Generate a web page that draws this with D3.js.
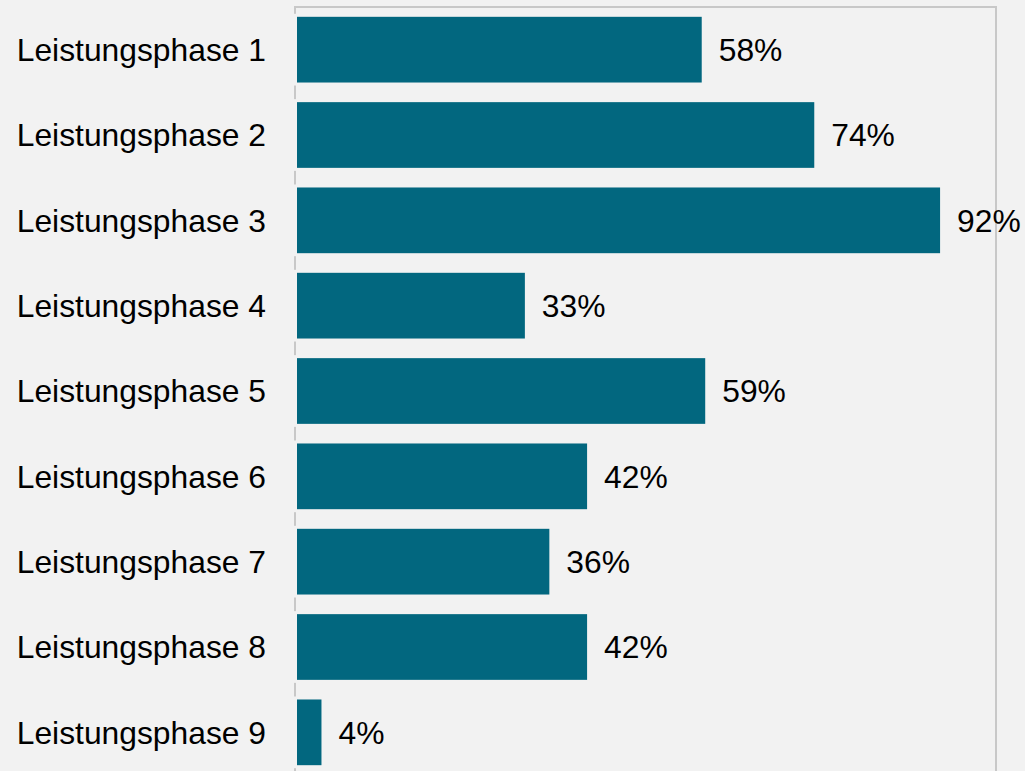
<!DOCTYPE html>
<html>
<head>
<meta charset="utf-8">
<script src="https://cdn.jsdelivr.net/npm/d3@7"></script>
<style>
  html, body { margin: 0; padding: 0; background: #f2f2f2; }
  svg { display: block; }
</style>
</head>
<body>
<div id="chart"></div>
<script>
const categories = ['Leistungsphase 1','Leistungsphase 2','Leistungsphase 3','Leistungsphase 4',
                    'Leistungsphase 5','Leistungsphase 6','Leistungsphase 7','Leistungsphase 8','Leistungsphase 9'];
const values = [57.9, 74.0, 92.0, 32.6, 58.4, 41.5, 36.1, 41.5, 3.5];
const valueLabels = ['58%','74%','92%','33%','59%','42%','36%','42%','4%'];

;(function(){
const W = 1025, H = 771;
const mLeft = 297, mRight = 996, mTop = 7, mBottom = 775;
const barColor = '#02677f', gridColor = '#c8c8c8', bg = '#f2f2f2';

const svg = d3.select('#chart').append('svg')
  .attr('width', W).attr('height', H);

svg.append('rect').attr('width', W).attr('height', H).attr('fill', bg);

const x = d3.scaleLinear().domain([0, 100]).range([mLeft, mRight]);
const y = d3.scaleBand().domain(categories).range([mTop, mBottom])
  .paddingInner(0.23).paddingOuter(0.115);

// frame: top, right, left
svg.append('path')
  .attr('d', `M${x(0) - 2},${H} V${mTop} H${x(100)} V${H}`)
  .attr('fill', 'none')
  .attr('stroke', gridColor)
  .attr('stroke-width', 2);

const g = svg.append('g');
// gaps in the axis line around each bar
g.selectAll('rect.gap').data(categories).enter().append('rect')
  .attr('class', 'gap')
  .attr('x', x(0) - 4)
  .attr('y', d => y(d) - 3)
  .attr('width', 5)
  .attr('height', y.bandwidth() + 6)
  .attr('fill', bg);

g.selectAll('rect.bar').data(values).enter().append('rect')
  .attr('class', 'bar')
  .attr('x', x(0))
  .attr('y', (d, i) => y(categories[i]))
  .attr('width', d => x(d) - x(0))
  .attr('height', y.bandwidth())
  .attr('fill', barColor);

g.selectAll('text.val').data(values).enter().append('text')
  .attr('class', 'val')
  .attr('x', d => x(d) + 17)
  .attr('y', (d, i) => y(categories[i]) + y.bandwidth() / 2)
  .attr('dy', '0.36em')
  .attr('font-family', 'Liberation Sans, Arial, sans-serif')
  .attr('font-size', 31.8)
  .attr('fill', '#000')
  .text((d, i) => valueLabels[i]);

g.selectAll('text.cat').data(categories).enter().append('text')
  .attr('class', 'cat')
  .attr('x', x(0) - 31)
  .attr('y', d => y(d) + y.bandwidth() / 2)
  .attr('dy', '0.36em')
  .attr('text-anchor', 'end')
  .attr('font-family', 'Liberation Sans, Arial, sans-serif')
  .attr('font-size', 31.8)
  .attr('fill', '#000')
  .text(d => d);
})();
</script>
</body>
</html>
